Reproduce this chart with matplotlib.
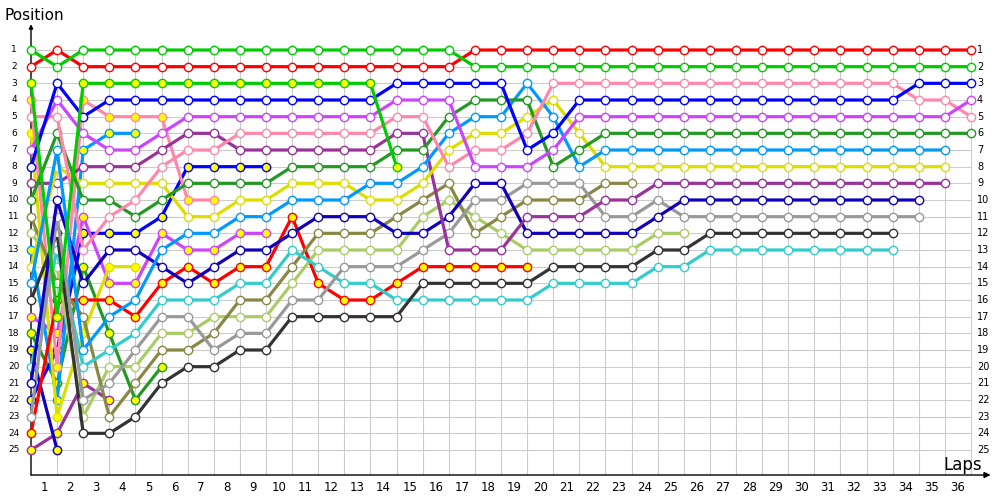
import matplotlib.pyplot as plt

# positions per lap (index 0 = start grid)
green   = [1, 2, 1, 1, 1, 1, 1, 1, 1, 1, 1, 1, 1, 1, 1, 1, 1,
           2, 2, 2, 2, 2, 2, 2, 2, 2, 2, 2, 2, 2, 2, 2, 2, 2, 2, 2, 2]
red     = [2, 1, 2, 2, 2, 2, 2, 2, 2, 2, 2, 2, 2, 2, 2, 2, 2,
           1, 1, 1, 1, 1, 1, 1, 1, 1, 1, 1, 1, 1, 1, 1, 1, 1, 1, 1, 1]
blue    = [8, 3, 5, 4, 4, 4, 4, 4, 4, 4, 4, 4, 4, 4, 3, 3, 3, 3, 3, 7, 6,
           4, 4, 4, 4, 4, 4, 4, 4, 4, 4, 4, 4, 4, 3, 3, 3]
violet  = [7, 4, 6, 7, 7, 6, 5, 5, 5, 5, 5, 5, 5, 5, 4, 4, 4, 8, 8, 8, 7,
           5, 5, 5, 5, 5, 5, 5, 5, 5, 5, 5, 5, 5, 5, 5, 4]
pink    = [5, 5, 13, 11, 10, 8, 7, 7, 6, 6, 6, 6, 6, 6, 5, 5, 8, 7, 7, 6,
           3, 3, 3, 3, 3, 3, 3, 3, 3, 3, 3, 3, 3, 3, 4, 4, 5]
fgreen  = [10, 6, 10, 10, 11, 10, 9, 9, 9, 9, 8, 8, 8, 8, 7, 7, 5, 4, 4, 4, 8, 7,
           6, 6, 6, 6, 6, 6, 6, 6, 6, 6, 6, 6, 6, 6, 6]
lblue   = [15, 7, 19, 17, 16, 13, 12, 12, 11, 11, 10, 10, 10, 9, 9, 8, 6, 5, 5, 3, 5, 8,
           7, 7, 7, 7, 7, 7, 7, 7, 7, 7, 7, 7, 7, 7]
yellow  = [14, 8, 9, 9, 9, 9, 11, 11, 10, 10, 9, 9, 9, 10, 10, 9, 7, 6, 6, 5, 4, 6,
           8, 8, 8, 8, 8, 8, 8, 8, 8, 8, 8, 8, 8, 8]
purple  = [9, 9, 8, 8, 8, 7, 6, 6, 7, 7, 7, 7, 7, 7, 6, 6, 13, 13, 13, 11, 11, 11, 10, 10,
           9, 9, 9, 9, 9, 9, 9, 9, 9, 9, 9, 9]
dblue   = [21, 10, 15, 13, 13, 14, 15, 14, 13, 13, 12, 11, 11, 11, 12, 12, 11, 9, 9,
           12, 12, 12, 12, 12, 11, 10, 10, 10, 10, 10, 10, 10, 10, 10, 10]
gray    = [23, 11, 22, 21, 19, 17, 17, 19, 18, 18, 16, 16, 14, 14, 14, 13, 12, 10, 10,
           9, 9, 9, 11, 11, 10, 11, 11, 11, 11, 11, 11, 11, 11, 11, 11]
black   = [16, 12, 24, 24, 23, 21, 20, 20, 19, 19, 17, 17, 17, 17, 17, 15, 15, 15, 15, 15,
           14, 14, 14, 14, 13, 13, 12, 12, 12, 12, 12, 12, 12, 12]
cyan    = [20, 13, 20, 19, 18, 16, 16, 16, 15, 15, 13, 14, 15, 15, 16, 16, 16, 16, 16, 16,
           15, 15, 15, 15, 14, 14, 13, 13, 13, 13, 13, 13, 13, 13]
olive   = [11, 15, 17, 23, 21, 19, 19, 18, 16, 16, 14, 12, 12, 12, 11, 10, 9, 12, 11,
           10, 10, 10, 9, 9]
lgreen  = [12, 14, 23, 20, 20, 18, 18, 17, 17, 17, 15, 13, 13, 13, 13, 11, 10, 11, 12,
           13, 13, 13, 13, 13, 12, 12]
# drivers drawn with yellow markers
greenY  = [3, 17, 3, 3, 3, 3, 3, 3, 3, 3, 3, 3, 3, 3, 8]
redY    = [24, 16, 16, 16, 17, 15, 14, 15, 14, 14, 11, 15, 16, 16, 15, 14, 14, 14, 14, 14]
pinkY   = [4, 20, 4, 5, 5, 5, 10, 10]
yellowY = [6, 23, 18, 14, 14]
lblueY  = [13, 22, 7, 6, 6]
violetY = [17, 18, 11, 15, 15, 12, 13, 13, 12, 12]
blueY   = [22, 19, 12, 12, 12, 11, 8, 8, 8, 8]
fgreenY = [18, 21, 14, 18, 22, 20]
purpleY = [25, 24, 21, 22]
dblueY  = [19, 25]

n_laps = 36
n_pos = 25

series = [
    (purpleY, "#993399", "#ffff00"), (dblueY, "#1100bb", "#ffff00"),
    (fgreenY, "#229922", "#ffff00"), (blueY, "#0000ff", "#ffff00"),
    (violetY, "#cc44ff", "#ffff00"), (lblueY, "#0099ff", "#ffff00"),
    (yellowY, "#dddd00", "#ffff00"), (pinkY, "#ff88aa", "#ffff00"),
    (redY, "#ff0000", "#ffff00"),
    (lgreen, "#aacc66", "white"), (olive, "#888844", "white"),
    (cyan, "#33cccc", "white"), (black, "#333333", "white"),
    (gray, "#999999", "white"), (dblue, "#1100bb", "white"),
    (purple, "#993399", "white"), (yellow, "#dddd00", "white"),
    (lblue, "#0099ff", "white"), (fgreen, "#229922", "white"),
    (pink, "#ff88aa", "white"), (violet, "#cc44ff", "white"),
    (blue, "#0000ff", "white"), (greenY, "#00cc00", "#ffff00"),
    (red, "#ff0000", "white"), (green, "#00cc00", "white"),
]

fig = plt.figure(figsize=(10, 5), dpi=100)
ax = fig.add_axes([0.031, 0.05, 0.963, 0.9])
ax.set_xlim(0, 36.88)
ax.set_ylim(26.5, -0.5)
ax.axis("off")

# grid
for k in range(1, n_laps + 1):
    ax.plot([k, k], [0.7, 26.5], color="#cccccc", lw=0.8, zorder=1)
for p in range(1, n_pos + 1):
    ax.plot([0, n_laps], [p, p], color="#cccccc", lw=0.8, zorder=1)

# axes with arrows
ax.annotate("", xy=(0, -0.55), xytext=(0, 26.5),
            arrowprops=dict(arrowstyle="-|>", color="black", lw=1.0,
                            mutation_scale=6, shrinkA=0, shrinkB=0),
            annotation_clip=False, zorder=2)
ax.annotate("", xy=(36.75, 26.5), xytext=(0, 26.5),
            arrowprops=dict(arrowstyle="-|>", color="black", lw=1.0,
                            mutation_scale=9, shrinkA=0, shrinkB=0),
            annotation_clip=False, zorder=2)

for i, (vals, col, fill) in enumerate(series):
    ax.plot(range(len(vals)), vals, color=col, lw=2.3, marker="o", ms=6.0,
            mfc=fill, mec=col, mew=1.0, zorder=3 + i, clip_on=False)

# position labels both sides
for p in range(1, n_pos + 1):
    ax.text(-0.65, p, str(p), ha="center", va="center", fontsize=6.5, clip_on=False)
    ax.text(36.23, p, str(p), ha="left", va="center", fontsize=7, clip_on=False)

# lap labels between grid lines
for k in range(1, n_laps + 1):
    ax.text(k - 0.5, 27.25, str(k), ha="center", va="center", fontsize=8.5, clip_on=False)

fig.text(0.005, 0.97, "Position", ha="left", va="center", fontsize=11)
fig.text(0.943, 0.07, "Laps", ha="left", va="center", fontsize=12)

fig.savefig("out.png", dpi=100)
